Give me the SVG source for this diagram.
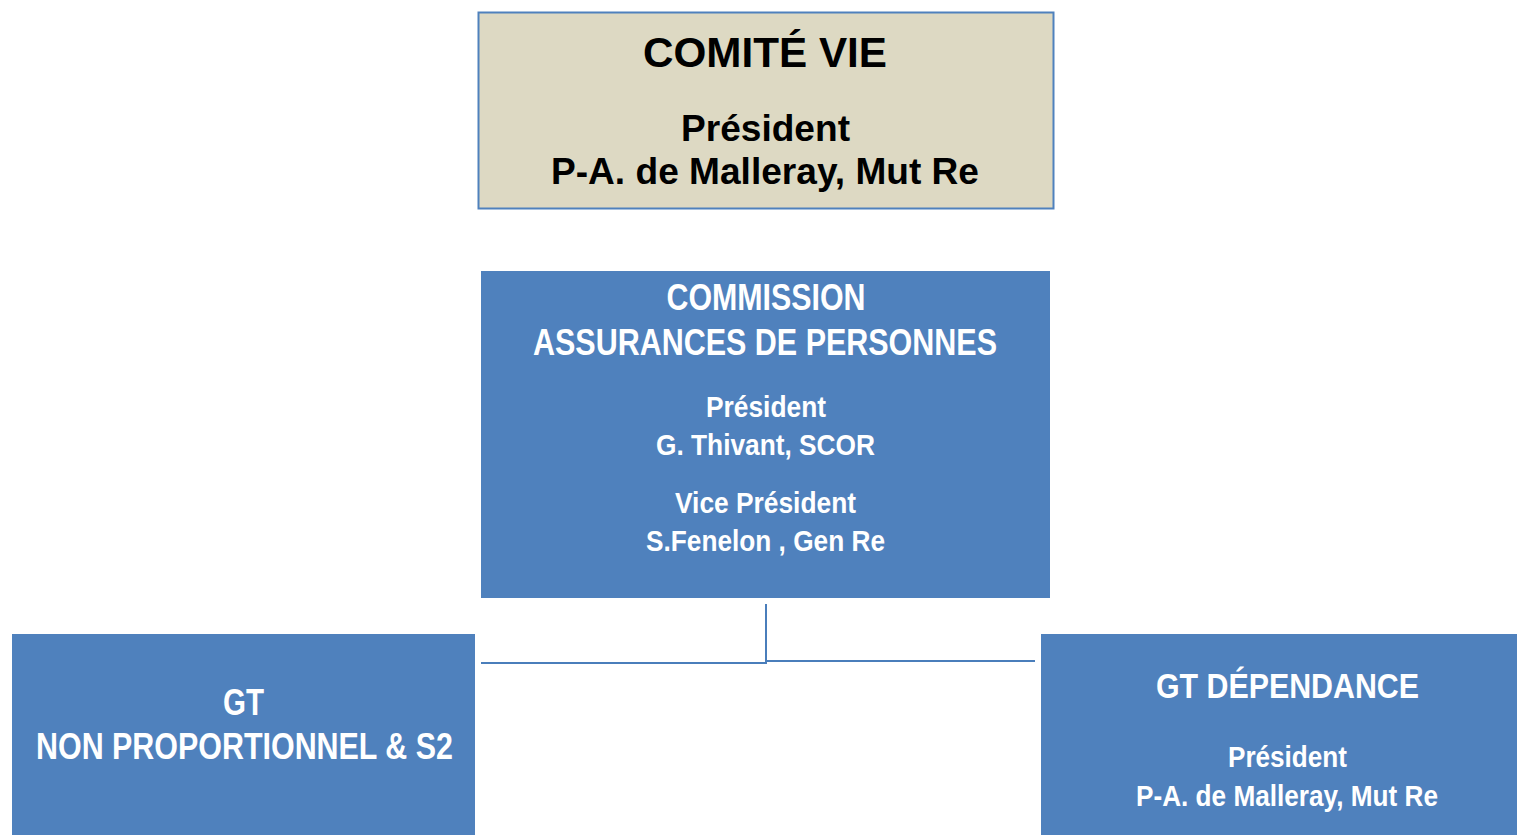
<svg xmlns="http://www.w3.org/2000/svg" width="1517" height="835" viewBox="0 0 1517 835">
<style>
.blue{fill:#4f81bd}
.wt{fill:#ffffff;font-family:"Liberation Sans",Arial,sans-serif;font-weight:bold;text-anchor:middle}
.bt{fill:#000000;font-family:"Liberation Sans",Arial,sans-serif;font-weight:bold;text-anchor:middle}
.conn{stroke:#4a7ebb;stroke-width:2;fill:none}
</style>
<rect x="0" y="0" width="1517" height="835" fill="#ffffff"/>
<g id="connectors">
<line class="conn" x1="766" y1="604" x2="766" y2="663"/>
<line class="conn" x1="481" y1="663" x2="767" y2="663"/>
<line class="conn" x1="766" y1="661" x2="1035" y2="661"/>
</g>
<g id="comite-vie">
<rect x="478.5" y="12.5" width="575" height="196" fill="#ddd9c3" stroke="#4f81bd" stroke-width="2"/>
<text class="bt" x="765" y="67" font-size="42" textLength="244" lengthAdjust="spacingAndGlyphs">COMITÉ VIE</text>
<text class="bt" x="765.5" y="141" font-size="37" textLength="169" lengthAdjust="spacingAndGlyphs">Président</text>
<text class="bt" x="765" y="184" font-size="37" textLength="428" lengthAdjust="spacingAndGlyphs">P-A. de Malleray, Mut Re</text>
</g>
<g id="commission">
<rect class="blue" x="481" y="271" width="569" height="327"/>
<text class="wt" x="766" y="310" font-size="36" textLength="199" lengthAdjust="spacingAndGlyphs">COMMISSION</text>
<text class="wt" x="765" y="355" font-size="36" textLength="464" lengthAdjust="spacingAndGlyphs">ASSURANCES DE PERSONNES</text>
<text class="wt" x="766" y="417" font-size="30" textLength="120" lengthAdjust="spacingAndGlyphs">Président</text>
<text class="wt" x="765.5" y="455" font-size="30" textLength="219" lengthAdjust="spacingAndGlyphs">G. Thivant, SCOR</text>
<text class="wt" x="765.5" y="513" font-size="30" textLength="181" lengthAdjust="spacingAndGlyphs">Vice Président</text>
<text class="wt" x="765.5" y="551" font-size="30" textLength="239" lengthAdjust="spacingAndGlyphs">S.Fenelon , Gen Re</text>
</g>
<g id="gt-non-proportionnel">
<rect class="blue" x="12" y="634" width="463" height="201"/>
<text class="wt" x="243.5" y="715" font-size="36" textLength="41" lengthAdjust="spacingAndGlyphs">GT</text>
<text class="wt" x="244.5" y="759" font-size="36" textLength="417" lengthAdjust="spacingAndGlyphs">NON PROPORTIONNEL &amp; S2</text>
</g>
<g id="gt-dependance">
<rect class="blue" x="1041" y="634" width="476" height="201"/>
<text class="wt" x="1287.5" y="698" font-size="35" textLength="263" lengthAdjust="spacingAndGlyphs">GT DÉPENDANCE</text>
<text class="wt" x="1287.5" y="767" font-size="29" textLength="119" lengthAdjust="spacingAndGlyphs">Président</text>
<text class="wt" x="1287" y="806" font-size="29" textLength="302" lengthAdjust="spacingAndGlyphs">P-A. de Malleray, Mut Re</text>
</g>
</svg>
